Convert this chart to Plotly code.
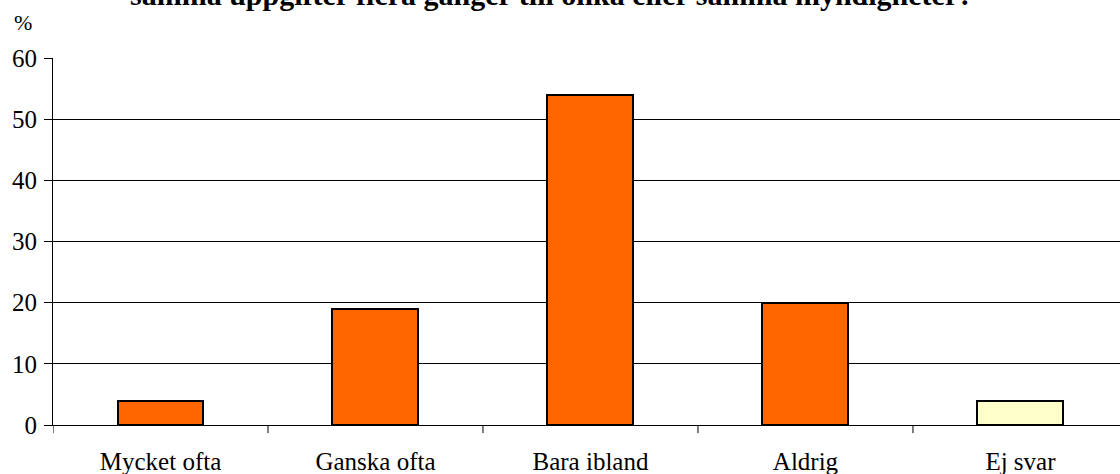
import plotly.graph_objects as go

categories = ["Mycket ofta", "Ganska ofta", "Bara ibland", "Aldrig", "Ej svar"]
values = [4, 19, 54, 20, 4]
bar_colors = ["#FF6600", "#FF6600", "#FF6600", "#FF6600", "#FFFFCC"]
y_ticks = [0, 10, 20, 30, 40, 50, 60]
title_text = "samma uppgifter flera gånger till olika eller samma myndigheter?"
unit_label = "%"

FONT = "Liberation Serif, Times New Roman, serif"

fig = go.Figure(go.Bar(
    x=list(range(len(categories))),
    y=values,
    marker=dict(color=bar_colors, line=dict(color="black", width=2)),
    width=0.4,
))

fig.update_layout(
    width=1120, height=474,
    margin=dict(l=53, r=0, t=58, b=49),
    paper_bgcolor="white", plot_bgcolor="white",
    showlegend=False,
    font=dict(family=FONT, size=25, color="black"),
    xaxis=dict(
        range=[-0.5, 4.463],
        tickmode="array",
        tickvals=list(range(len(categories))),
        ticktext=categories,
        showgrid=False,
        showline=True, linecolor="black", linewidth=1,
        ticks="", tickfont=dict(size=25),
        ticklabelstandoff=14,
        zeroline=False,
    ),
    yaxis=dict(
        range=[0, 60],
        tickmode="array", tickvals=y_ticks,
        showgrid=True, gridcolor="black", gridwidth=1,
        showline=True, linecolor="black", linewidth=1,
        ticks="outside", ticklen=8, tickcolor="black",
        tickfont=dict(size=25),
        ticklabelstandoff=2,
        zeroline=False,
    ),
    bargap=0,
)

# category boundary tick marks
for b in [-0.5, 0.5, 1.5, 2.5, 3.5]:
    fig.add_shape(type="line", xref="x", yref="paper", x0=b, x1=b, y0=0, y1=-0.022,
                  line=dict(color="black", width=1))

fig.add_annotation(text="<b>" + title_text + "</b>", xref="paper", yref="paper",
                   x=0.467, y=1, yanchor="bottom", yshift=45, showarrow=False,
                   font=dict(size=30, family=FONT))
fig.add_annotation(text=unit_label, xref="paper", yref="paper", x=0, y=1,
                   xanchor="center", yanchor="middle",
                   xshift=-30, yshift=36, showarrow=False, font=dict(size=22, family=FONT))

fig.write_html("out.html", config={"displayModeBar": False},
               post_script="document.body.style.margin='0px';")
